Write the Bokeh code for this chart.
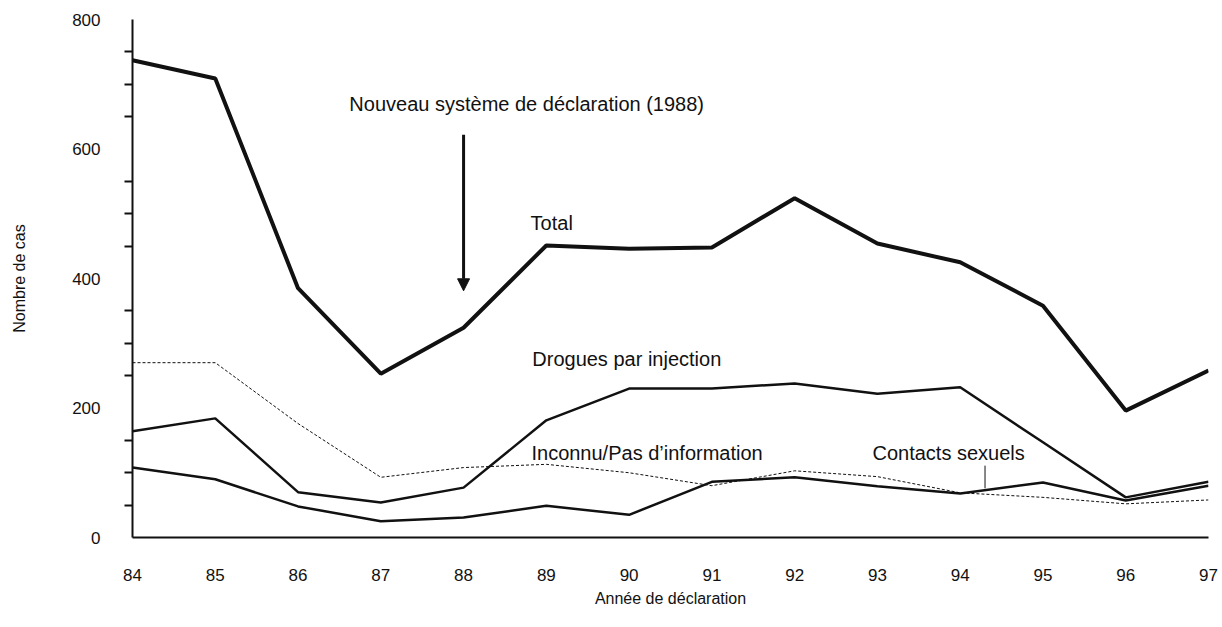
from bokeh.plotting import figure
from bokeh.models import FixedTicker, Label, Arrow, NormalHead, Range1d
from bokeh.embed import file_html
from bokeh.resources import INLINE

years = [84, 85, 86, 87, 88, 89, 90, 91, 92, 93, 94, 95, 96, 97]
total = [737, 709, 385, 253, 324, 451, 446, 448, 524, 454, 425, 358, 196, 258]
drogues = [164, 184, 70, 54, 77, 181, 230, 230, 238, 222, 232, 147, 62, 86]
contacts = [108, 90, 48, 25, 31, 49, 35, 86, 93, 79, 68, 85, 57, 80]
inconnu = [270, 270, 176, 93, 108, 113, 100, 80, 103, 94, 69, 62, 52, 58]
y_major = [0, 200, 400, 600, 800]
y_minor = [50, 100, 150, 250, 300, 350, 450, 500, 550, 650, 700, 750]

FONT = "Liberation Sans"
INK = "#111111"

p = figure(frame_width=1076, frame_height=518, output_backend="svg", toolbar_location=None,
           x_range=Range1d(84, 97), y_range=Range1d(0, 800),
           min_border_left=132, min_border_right=10, min_border_top=19, min_border_bottom=60)
p.outline_line_color = None
p.grid.visible = False
p.background_fill_color = "white"

# axes
p.xaxis.ticker = FixedTicker(ticks=years)
p.xaxis.major_tick_out = 16
p.xaxis.major_tick_in = 0
p.xaxis.major_label_standoff = 15
p.xaxis.axis_label = "Année de déclaration"
p.xaxis.axis_label_standoff = 6

p.yaxis.ticker = FixedTicker(ticks=y_major, minor_ticks=y_minor)
p.yaxis.major_tick_out = 0
p.yaxis.major_tick_in = 0
p.yaxis.minor_tick_out = 8
p.yaxis.minor_tick_in = 0
p.yaxis.major_label_standoff = 24
p.yaxis.axis_label = "Nombre de cas"
p.yaxis.axis_label_standoff = 41

for ax in (p.xaxis, p.yaxis):
    ax.axis_line_width = 2
    ax.axis_line_color = INK
    ax.major_tick_line_width = 2
    ax.minor_tick_line_width = 2
    ax.major_tick_line_color = INK if ax is p.xaxis else None
    ax.minor_tick_line_color = None if ax is p.xaxis else INK
    ax.major_label_text_font = FONT
    ax.major_label_text_font_size = "17px"
    ax.major_label_text_color = INK
    ax.axis_label_text_font = FONT
    ax.axis_label_text_font_size = "16px"
    ax.axis_label_text_font_style = "normal"
    ax.axis_label_text_color = INK

# series
p.line(years, inconnu, line_color=INK, line_width=1, line_dash="3 2")
p.line(years, contacts, line_color=INK, line_width=2.5)
p.line(years, drogues, line_color=INK, line_width=2.5)
p.line(years, total, line_color=INK, line_width=4)

# annotations
p.add_layout(Arrow(end=NormalHead(size=12, fill_color=INK, line_color=INK),
                   x_start=88, y_start=622, x_end=88, y_end=381,
                   line_width=3, line_color=INK))

def lab(txt, x, y):
    p.add_layout(Label(x=x, y=y, text=txt, text_font=FONT, text_font_size="20px",
                       text_color=INK, text_baseline="middle", text_align="left"))

lab("Nouveau système de déclaration (1988)", 86.62, 670)
lab("Total", 88.81, 486)
lab("Drogues par injection", 88.83, 276)
lab("Inconnu/Pas d\u2019information", 88.82, 130)
lab("Contacts sexuels", 92.94, 130)
p.segment(x0=[94.3], y0=[111], x1=[94.3], y1=[76], line_color=INK, line_width=1)

open("out.html", "w").write(file_html(p, INLINE))
